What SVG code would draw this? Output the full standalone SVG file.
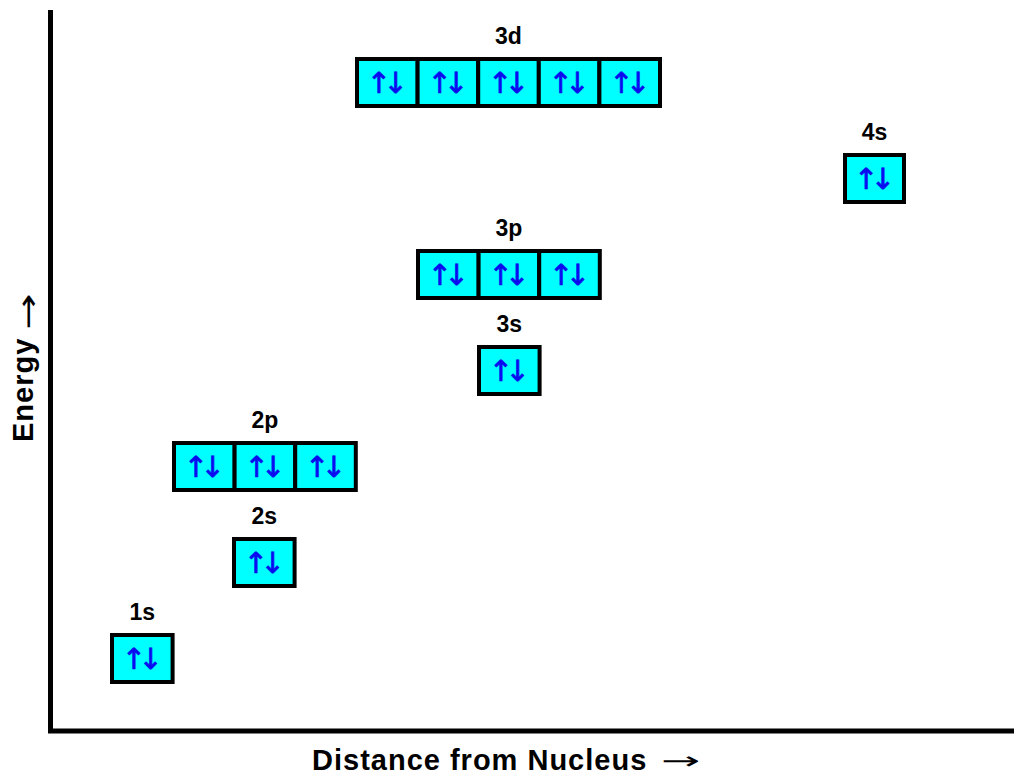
<svg xmlns="http://www.w3.org/2000/svg" width="1014" height="774" viewBox="0 0 1014 774">
<style>
.cell{fill:#00ffff;stroke:#000;stroke-width:4}
.lbl{font-family:"Liberation Sans",Arial,sans-serif;font-weight:bold;font-size:23px;fill:#000;text-anchor:middle}
.arr{font-family:"DejaVu Sans","Liberation Sans",sans-serif;font-size:29px;letter-spacing:-7.6px;fill:#0b0bf0;stroke:#0b0bf0;stroke-width:0.7;text-anchor:middle}
.axl{font-family:"Liberation Sans",Arial,sans-serif;font-weight:bold;font-size:29px;letter-spacing:1px;fill:#000}
.axa{font-family:"DejaVu Sans",sans-serif;fill:#000}
</style>
<rect width="1014" height="774" fill="#fff"/>
<g id="axes">
<path d="M50.5,10 V731 H1014" fill="none" stroke="#000" stroke-width="5"/>
</g>
<text class="axl" x="312" y="769.5">Distance from Nucleus</text>
<text class="axa" font-size="24" transform="translate(661,769) scale(1.95,1)" x="0" y="0">→</text>
<text class="axl" transform="translate(33,442) rotate(-90)">Energy</text>
<text class="axa" font-size="30" transform="translate(37.5,330) rotate(-90) scale(1.45,1)" x="0" y="0">→</text>
<g id="o1s">
<rect class="cell" x="112" y="635" width="60.6" height="47"/>
<text class="lbl" x="142.3" y="620">1s</text>
<text class="arr" x="138.5" y="669">↑↓</text>
</g>
<g id="o2s">
<rect class="cell" x="234" y="539" width="60.6" height="47"/>
<text class="lbl" x="264.3" y="524">2s</text>
<text class="arr" x="260.5" y="573">↑↓</text>
</g>
<g id="o2p">
<rect class="cell" x="174" y="443" width="60.6" height="47"/>
<rect class="cell" x="234.6" y="443" width="60.6" height="47"/>
<rect class="cell" x="295.2" y="443" width="60.6" height="47"/>
<text class="lbl" x="264.9" y="428">2p</text>
<text class="arr" x="200.5" y="477">↑↓</text>
<text class="arr" x="261.1" y="477">↑↓</text>
<text class="arr" x="321.7" y="477">↑↓</text>
</g>
<g id="o3s">
<rect class="cell" x="479" y="347" width="60.6" height="47"/>
<text class="lbl" x="509.3" y="332">3s</text>
<text class="arr" x="505.5" y="381">↑↓</text>
</g>
<g id="o3p">
<rect class="cell" x="418" y="251" width="60.6" height="47"/>
<rect class="cell" x="478.6" y="251" width="60.6" height="47"/>
<rect class="cell" x="539.2" y="251" width="60.6" height="47"/>
<text class="lbl" x="508.9" y="236">3p</text>
<text class="arr" x="444.5" y="285">↑↓</text>
<text class="arr" x="505.1" y="285">↑↓</text>
<text class="arr" x="565.7" y="285">↑↓</text>
</g>
<g id="o4s">
<rect class="cell" x="845" y="155" width="59" height="47"/>
<text class="lbl" x="874.5" y="140">4s</text>
<text class="arr" x="870.7" y="189">↑↓</text>
</g>
<g id="o3d">
<rect class="cell" x="357" y="59" width="60.6" height="47"/>
<rect class="cell" x="417.6" y="59" width="60.6" height="47"/>
<rect class="cell" x="478.2" y="59" width="60.6" height="47"/>
<rect class="cell" x="538.8" y="59" width="60.6" height="47"/>
<rect class="cell" x="599.4" y="59" width="60.6" height="47"/>
<text class="lbl" x="508.5" y="44">3d</text>
<text class="arr" x="383.5" y="93">↑↓</text>
<text class="arr" x="444.1" y="93">↑↓</text>
<text class="arr" x="504.7" y="93">↑↓</text>
<text class="arr" x="565.3" y="93">↑↓</text>
<text class="arr" x="625.9" y="93">↑↓</text>
</g>
<g id="connectors"></g>
</svg>
